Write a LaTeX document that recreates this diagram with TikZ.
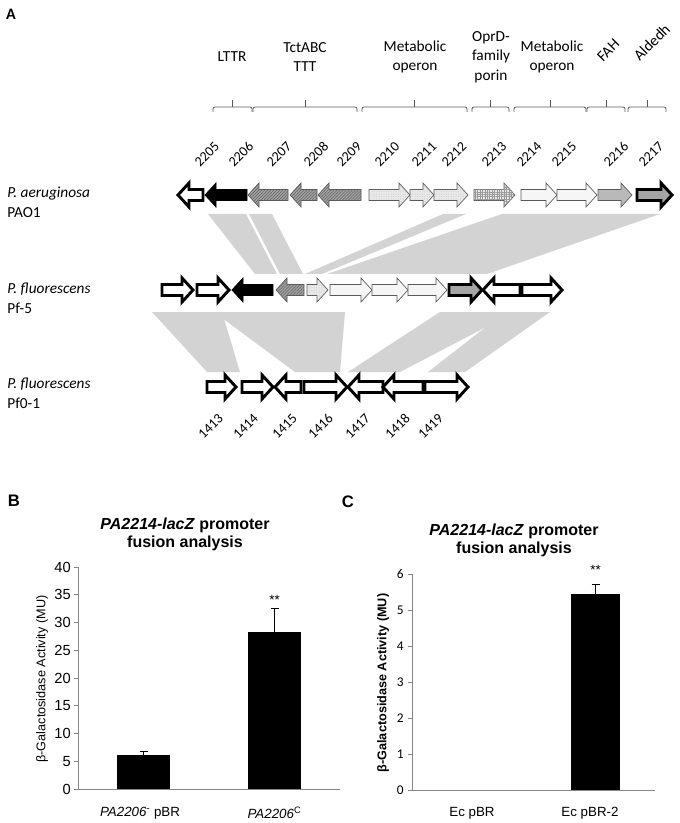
\documentclass[tikz,border=0pt]{standalone}
\usepackage{fontspec}
\setmainfont{Carlito}
\newfontfamily\arialfont{Liberation Sans}
\usetikzlibrary{patterns.meta}
\definecolor{BandGray}{RGB}{211,211,211}
\definecolor{EdgeGray}{RGB}{90,90,90}
\definecolor{HatchGray}{RGB}{160,160,160}
\definecolor{DotGray}{RGB}{232,232,232}
\definecolor{PaleGray}{RGB}{246,246,246}
\definecolor{MidGray}{RGB}{185,185,185}
\definecolor{CoreGray}{RGB}{165,165,165}
\definecolor{AxisGray}{RGB}{134,134,134}
\tikzset{
  openorf/.style={draw=black,line width=2.2pt,fill=white},
  blackorf/.style={draw=black,line width=0.6pt,fill=black},
  hatchorf/.style={draw=EdgeGray,line width=0.5pt,fill=HatchGray,
    postaction={pattern={Lines[angle=45,distance=1.6pt,line width=0.4pt]},pattern color=black!60}},
  dotorf/.style={draw=EdgeGray,line width=0.5pt,fill=DotGray,
    postaction={pattern={Dots[distance=1.8pt,radius=0.25pt]},pattern color=black!30}},
  gridorf/.style={draw=EdgeGray,line width=0.5pt,fill=DotGray,
    postaction={pattern={Hatch[angle=0,distance=1.8pt,line width=0.3pt]},pattern color=black!40}},
  paleorf/.style={draw=EdgeGray,line width=0.5pt,fill=PaleGray},
  midorf/.style={draw=EdgeGray,line width=0.5pt,fill=MidGray},
  coreorf/.style={draw=black,line width=2.2pt,fill=CoreGray},
  band/.style={fill=BandGray,draw=none},
  bracket/.style={draw=EdgeGray,line width=0.6pt,rounded corners=1.5pt},
  grouplabel/.style={font=\fontsize{11.5}{14.5}\selectfont,align=center,inner sep=0pt},
  species/.style={font=\fontsize{11.5}{15}\selectfont,align=left,anchor=west,inner sep=0pt},
  orflabel/.style={font=\fontsize{10.5}{11}\selectfont,rotate=45,inner sep=0pt},
  panel/.style={font=\arialfont\bfseries\fontsize{12.5}{14}\selectfont,inner sep=0pt},
  charttitle/.style={font=\arialfont\bfseries\fontsize{12}{13.5}\selectfont,align=center,inner sep=0pt},
  axis/.style={draw=AxisGray,line width=0.6pt},
  bar/.style={fill=black,draw=none},
  errbar/.style={draw=black,line width=0.6pt},
  ticklabel/.style={font=\arialfont\fontsize{11}{12}\selectfont,anchor=east,inner sep=0pt},
  catlabel/.style={font=\arialfont\fontsize{10}{12}\selectfont,inner sep=0pt}
}
% gene arrow: style, tail x, tip x, row y
\newcommand{\gene}[4]{%
  \draw[#1] (#2,#4-5.5) -- ({#3-11*sign(#3-#2)},#4-5.5) -- ({#3-11*sign(#3-#2)},#4-12)
    -- (#3,#4) -- ({#3-11*sign(#3-#2)},#4+12) -- ({#3-11*sign(#3-#2)},#4+5.5) -- (#2,#4+5.5) -- cycle;}
\begin{document}
\begin{tikzpicture}[x=0.75pt,y=-0.75pt]
\useasboundingbox (0,0) rectangle (680,823);

% ---- panel A ----
\node[panel,font=\bfseries\fontsize{12}{14}\selectfont] (pA) at (11,14) {A};

% synteny bands
\fill[band] (208,214) -- (246,214) -- (277,274) -- (255,274) -- cycle;
\fill[band] (249,214) -- (272,214) -- (303,274) -- (280,274) -- cycle;
\fill[band] (443,214) -- (466,214) -- (322,274) -- (305,274) -- cycle;
\fill[band] (502,214) -- (660,214) -- (487,274) -- (327,274) -- cycle;
\fill[band] (152,312) -- (222,312) -- (240,372) -- (207,372) -- cycle;
\fill[band] (214,312) -- (345,312) -- (340,372) -- (295,372) -- cycle;
\fill[band] (440,312) -- (515,312) -- (400,372) -- (348,372) -- cycle;
\fill[band] (505,312) -- (550,312) -- (465,372) -- (428,372) -- cycle;

% group labels and brackets
\node[grouplabel] (lttr) at (232,57) {LTTR};
\node[grouplabel] (tct) at (305,57) {TctABC\\TTT};
\node[grouplabel] (meta1) at (415,57) {Metabolic\\operon};
\node[grouplabel] (oprd) at (491,57) {OprD-\\family\\porin};
\node[grouplabel] (meta2) at (552,57) {Metabolic\\operon};
\node[grouplabel,rotate=45,anchor=south west] (fah) at (603,63) {FAH};
\node[grouplabel,rotate=45,anchor=south west] (aldedh) at (640,62) {Aldedh};
\foreach \a/\b in {213/252,253/357,362/467,472/509,514/586,587/625,628/666}{
  \draw[bracket] (\a,112) -- (\a,107) -- (\b,107) -- (\b,112);
  \draw[bracket] ({(\a+\b)/2},107) -- ({(\a+\b)/2},100);
}

% PAO1 locus tags
\foreach \x/\t in {200/2205,234/2206,272/2207,309/2208,342/2209,380/2210,417/2211,
                   447/2212,487/2213,522/2214,557/2215,609/2216,644/2217}
  \node[orflabel,anchor=base west] (pa\t) at (\x,168) {\t};

% species
\node[species] (pao) at (7,202) {\textit{P. aeruginosa}\\PAO1};
\node[species] (pf5) at (7,298) {\textit{P. fluorescens}\\Pf-5};
\node[species] (pf01) at (7,393) {\textit{P. fluorescens}\\Pf0-1};

% PAO1 genes
\gene{openorf}{203}{178}{195}
\gene{blackorf}{247}{205}{195}
\gene{hatchorf}{288}{248}{195}
\gene{hatchorf}{317}{290}{195}
\gene{hatchorf}{361}{318}{195}
\gene{dotorf}{369}{410}{195}
\gene{dotorf}{410}{434}{195}
\gene{dotorf}{434}{468}{195}
\gene{gridorf}{474}{515}{195}
\gene{paleorf}{521}{557}{195}
\gene{paleorf}{557}{597}{195}
\gene{midorf}{598}{632}{195}
\gene{coreorf}{637}{672}{195}

% Pf-5 genes
\gene{openorf}{162}{193}{290}
\gene{openorf}{197}{229}{290}
\gene{blackorf}{273}{232}{290}
\gene{hatchorf}{304}{276}{290}
\gene{dotorf}{307}{328}{290}
\gene{paleorf}{330}{372}{290}
\gene{paleorf}{372}{408}{290}
\gene{paleorf}{408}{447}{290}
\gene{coreorf}{449}{482}{290}
\gene{openorf}{520}{483}{290}
\gene{openorf}{522}{562}{290}

% Pf0-1 genes
\gene{openorf}{207}{236}{387}
\gene{openorf}{242}{273}{387}
\gene{openorf}{301}{275}{387}
\gene{openorf}{304}{347}{387}
\gene{openorf}{383}{348}{387}
\gene{openorf}{423}{383}{387}
\gene{openorf}{425}{468}{387}

% Pf0-1 locus tags
\foreach \x/\t in {224/1413,259/1414,298/1415,334/1416,371/1417,411/1418,444/1419}
  \node[orflabel,anchor=base east] (pf\t) at (\x,419) {\t};

% ---- panel B ----
\node[panel] (pB) at (14,501) {B};
\node[charttitle] (titleB) at (185,534) {\textit{PA2214-lacZ} promoter\\fusion analysis};
\draw[axis] (78,567) -- (78,789) -- (340,789);
\foreach \v in {0,5,...,40}{
  \draw[axis] (74,{789-5.55*\v}) -- (78,{789-5.55*\v});
  \node[ticklabel] (tb\v) at (71,{789-5.55*\v}) {\v};
}
\node[font=\arialfont\fontsize{9.5}{10}\selectfont,rotate=90,inner sep=0pt] (ylabB) at (42,679) {β-Galactosidase Activity (MU)};
\fill[bar] (117,789) rectangle (170,{789-5.55*6.1});
\fill[bar] (248,789) rectangle (301,{789-5.55*28.35});
\draw[errbar] (143.5,{789-5.55*6.1}) -- (143.5,{789-5.55*6.7});
\draw[errbar] (139.5,{789-5.55*6.7}) -- (147.5,{789-5.55*6.7});
\draw[errbar] (274.5,{789-5.55*28.35}) -- (274.5,{789-5.55*32.6});
\draw[errbar] (270.5,{789-5.55*32.6}) -- (278.5,{789-5.55*32.6});
\node[catlabel] (starB) at (274.5,600) {**};
\node[catlabel] (catB1) at (140,813) {\textit{PA2206}\textsuperscript{-} pBR};
\node[catlabel] (catB2) at (274.5,813) {\textit{PA2206}\textsuperscript{C}};

% ---- panel C ----
\node[panel] (pC) at (348,502) {C};
\node[charttitle] (titleC) at (514,540) {\textit{PA2214-lacZ} promoter\\fusion analysis};
\draw[axis] (412,574) -- (412,790) -- (655,790);
\foreach \v in {0,...,6}{
  \draw[axis] (408,{790-36*\v}) -- (412,{790-36*\v});
  \node[ticklabel,font=\fontsize{10}{12}\selectfont] (tc\v) at (404,{790-36*\v}) {\v};
}
\node[font=\arialfont\bfseries\fontsize{9.5}{10}\selectfont,rotate=90,inner sep=0pt] (ylabC) at (383,683) {β-Galactosidase Activity (MU)};
\fill[bar] (571,790) rectangle (620,{790-36*5.45});
\draw[errbar] (595.5,{790-36*5.45}) -- (595.5,{790-36*5.72});
\draw[errbar] (591.5,{790-36*5.72}) -- (599.5,{790-36*5.72});
\node[catlabel] (starC) at (595.5,570) {**};
\node[catlabel] (catC1) at (472,813) {Ec pBR};
\node[catlabel] (catC2) at (590,813) {Ec pBR-2};
\end{tikzpicture}
\end{document}
